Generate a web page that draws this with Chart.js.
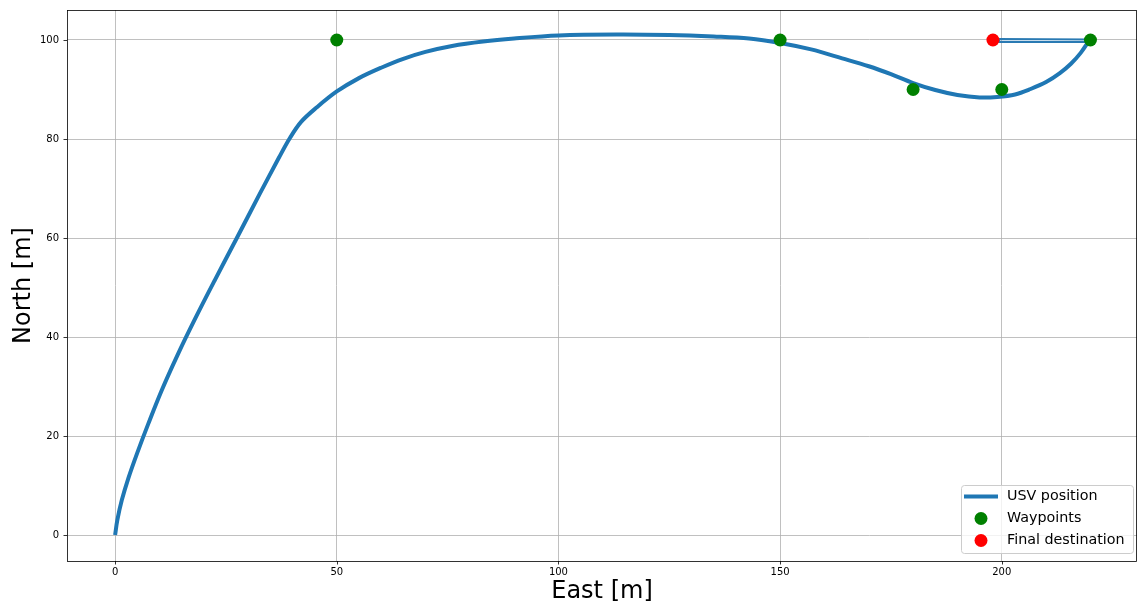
<!DOCTYPE html>
<html><head><meta charset="utf-8">
<script src="https://cdn.jsdelivr.net/npm/chart.js@4.4.1/dist/chart.umd.min.js"></script>
<style>html,body{margin:0;padding:0;background:#fff;} #wrap{width:1138px;height:611px;position:relative;}</style>
</head><body><div id="wrap"><canvas id="c" width="1138" height="611"></canvas></div>
<script>
// ---- data ----
const pathEast  = [0, 0.5, 1.5, 3.0, 5.0, 7.5, 10.5, 14.0, 18.0, 22.5, 27.4, 32.5, 37.0, 39.5, 42.0, 45.5, 50, 55, 60, 65, 70, 76, 83, 90, 100, 113, 125, 135, 143, 150, 157, 164, 170, 175, 180, 185, 190, 195, 199, 203, 206.5, 210, 213.1, 215.6, 217.8, 219.8];
const pathNorth = [0, 3.0, 7.0, 11.5, 16.6, 22.5, 29.2, 36.2, 43.6, 51.5, 59.9, 68.7, 76.3, 80.3, 83.5, 86.4, 89.6, 92.3, 94.4, 96.2, 97.6, 98.8, 99.7, 100.3, 100.9, 101.1, 101.0, 100.7, 100.3, 99.4, 98.1, 96.3, 94.7, 93.1, 91.3, 89.9, 88.9, 88.4, 88.5, 89.0, 90.1, 91.5, 93.3, 95.2, 97.4, 100.0];
const returnEast  = [220, 199.4, 199.4, 219.6];
const returnNorth = [100.1, 100.2, 99.6, 99.6];
const waypointEast  = [50, 150, 180, 200, 220];
const waypointNorth = [100, 100, 90, 90, 100];
const finalEast  = [198];
const finalNorth = [100];
const xTicks = [0, 50, 100, 150, 200];
const yTicks = [0, 20, 40, 60, 80, 100];
const seriesLabels = ['USV position', 'Waypoints', 'Final destination'];
const axisTitles = ['East [m]', 'North [m]'];

const zip = (xs, ys) => xs.map((x, i) => ({x: x, y: ys[i]}));
const FONT = 'DejaVu Sans';

const framePlugin = {
  id: 'frame',
  afterDatasetsDraw(chart) {
    const {ctx, chartArea: a, scales} = chart;
    ctx.save();
    ctx.strokeStyle = '#000';
    ctx.lineWidth = 0.8;
    ctx.beginPath();
    xTicks.forEach(v => {
      const p = Math.round(scales.x.getPixelForValue(v)) + 0.5;
      ctx.moveTo(p, a.bottom); ctx.lineTo(p, a.bottom + 3.5);
    });
    yTicks.forEach(v => {
      const p = Math.round(scales.y.getPixelForValue(v)) + 0.5;
      ctx.moveTo(a.left, p); ctx.lineTo(a.left - 3.5, p);
    });
    ctx.stroke();
    ctx.strokeRect(Math.round(a.left) + 0.5, Math.round(a.top) + 0.5, Math.round(a.right - a.left) - 1, Math.round(a.bottom - a.top));
    ctx.restore();
  }
};

const legendPlugin = {
  id: 'mplLegend',
  afterDraw(chart) {
    const {ctx} = chart;
    const ds = chart.data.datasets.filter(d => seriesLabels.includes(d.label));
    const bx = 961, by = 485, bw = 172, bh = 68;
    ctx.save();
    ctx.fillStyle = 'rgba(255,255,255,0.8)';
    ctx.strokeStyle = '#cccccc';
    ctx.lineWidth = 1;
    ctx.beginPath();
    ctx.roundRect(bx + 0.5, by + 0.5, bw, bh, 3);
    ctx.fill(); ctx.stroke();
    ctx.font = '14.3px "' + FONT + '"';
    ctx.textBaseline = 'middle';
    ctx.textAlign = 'left';
    ds.forEach((d, i) => {
      const cy = 496.5 + i * 22;
      if (d.showLine) {
        ctx.strokeStyle = d.borderColor;
        ctx.lineWidth = d.borderWidth;
        ctx.beginPath(); ctx.moveTo(964, cy); ctx.lineTo(998, cy); ctx.stroke();
      } else {
        ctx.fillStyle = d.backgroundColor;
        ctx.beginPath(); ctx.arc(981, cy, d.pointRadius, 0, Math.PI * 2); ctx.fill();
      }
      ctx.fillStyle = '#000';
      ctx.fillText(d.label, 1007, cy);
    });
    ctx.restore();
  }
};

const zeroPad = s => { s.paddingLeft = 0; s.paddingRight = 0; s.paddingTop = 0; s.paddingBottom = 0; };

new Chart(document.getElementById('c'), {
  type: 'scatter',
  data: {
    datasets: [
      {label: seriesLabels[0], data: zip(pathEast, pathNorth), showLine: true, borderColor: '#1f77b4', backgroundColor: '#1f77b4', borderWidth: 4, pointRadius: 0, pointHoverRadius: 0, tension: 0.35, borderCapStyle: 'butt', borderJoinStyle: 'round', order: 3},
      {label: '', data: zip(returnEast, returnNorth), showLine: true, borderColor: '#2a7ab3', borderWidth: 2, pointRadius: 0, tension: 0, order: 4},
      {label: seriesLabels[1], data: zip(waypointEast, waypointNorth), showLine: false, backgroundColor: '#008000', borderColor: '#008000', borderWidth: 0, pointRadius: 6.5, order: 1},
      {label: seriesLabels[2], data: zip(finalEast, finalNorth), showLine: false, backgroundColor: '#ff0000', borderColor: '#ff0000', borderWidth: 0, pointRadius: 6.5, order: 0}
    ]
  },
  options: {
    responsive: false,
    devicePixelRatio: 1,
    animation: false,
    events: [],
    layout: {autoPadding: false, padding: {top: 10, right: 1, left: 0, bottom: 0}},
    plugins: {legend: {display: false}, tooltip: {enabled: false}},
    scales: {
      x: {
        type: 'linear', min: -10.85, max: 230.5,
        afterBuildTicks: s => { s.ticks = xTicks.map(v => ({value: v})); },
        afterFit: s => { s.height = 50; zeroPad(s); },
        grid: {color: '#b0b0b0', lineWidth: 0.8, drawTicks: false},
        border: {display: false},
        ticks: {color: '#000', padding: 5, maxRotation: 0, autoSkip: false, font: {family: FONT, size: 10}},
        title: {display: true, text: axisTitles[0], color: '#000', font: {family: FONT, size: 24}, padding: {top: 0, bottom: 5}}
      },
      y: {
        type: 'linear', min: -5.25, max: 106.06,
        afterBuildTicks: s => { s.ticks = yTicks.map(v => ({value: v})); },
        afterFit: s => { s.width = 67; zeroPad(s); },
        grid: {color: '#b0b0b0', lineWidth: 0.8, drawTicks: false},
        border: {display: false},
        ticks: {color: '#000', padding: 8, autoSkip: false, font: {family: FONT, size: 10}},
        title: {display: true, text: axisTitles[1], color: '#000', font: {family: FONT, size: 24}, padding: {top: 9, bottom: 0}}
      }
    }
  },
  plugins: [framePlugin, legendPlugin]
});
</script>
</body></html>
